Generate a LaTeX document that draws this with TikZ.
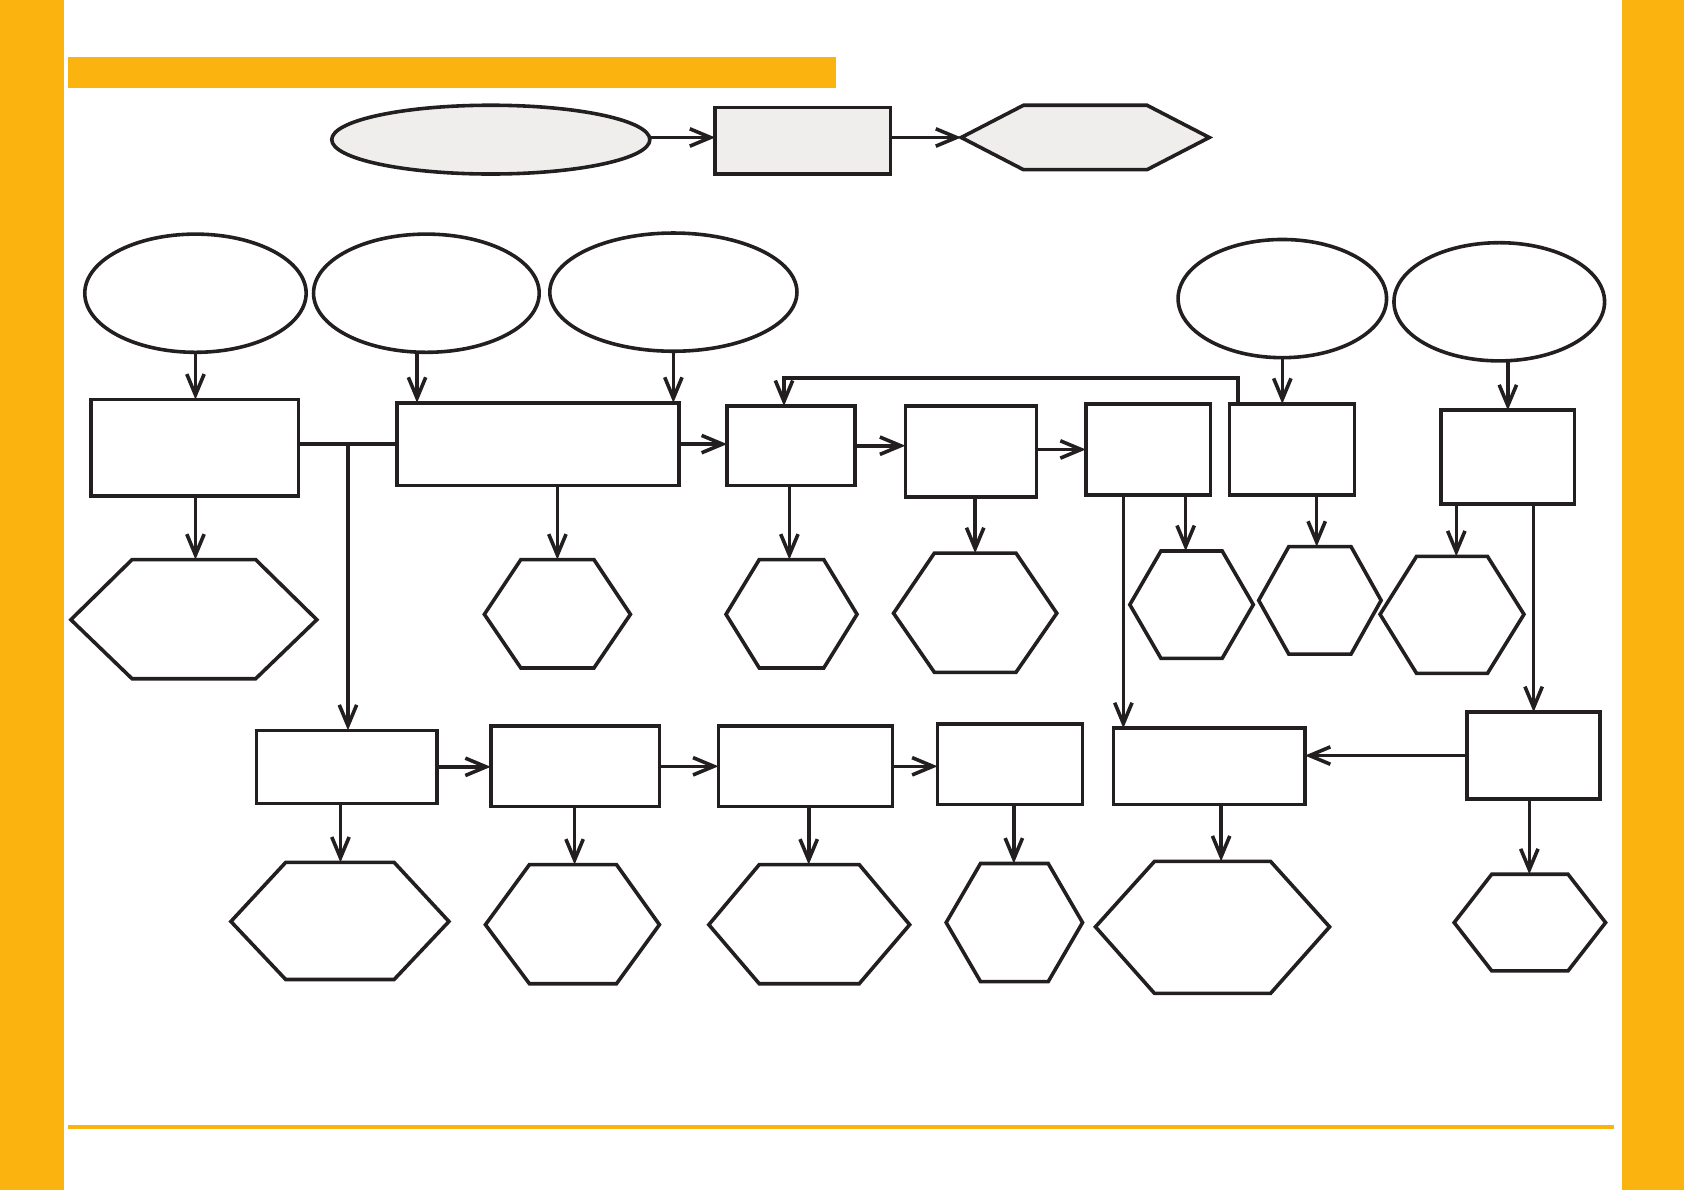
\documentclass[tikz,border=0pt]{standalone}
\usepackage{xcolor}
\usepackage{tikz}
\usetikzlibrary{arrows.meta,shapes.geometric}
\definecolor{barorange}{HTML}{FBB30F}
\definecolor{boxgray}{HTML}{EFEEED}
\definecolor{inkline}{HTML}{231F20}
\begin{document}
\begin{tikzpicture}[x=0.01cm,y=-0.01cm,>={Straight Barb[length=5.5pt,width=4.6pt]},
  line width=0.95pt,draw=inkline,
  blk/.style={draw=inkline,line width=0.95pt,inner sep=0pt,outer sep=0pt,rectangle},
  oval/.style={draw=inkline,line width=0.95pt,inner sep=0pt,outer sep=0pt,ellipse},
  hexa/.style={draw=inkline,line width=0.95pt,line join=miter},
  link/.style={->,draw=inkline,line width=0.95pt}]
\useasboundingbox (0,0) rectangle (1568,1108);
% frame
\fill[barorange](0,0) rectangle (60,1108);
\fill[barorange](1510,0) rectangle (1568,1108);
\fill[barorange](63,53) rectangle (778,82);
\draw[barorange,line width=1.1pt](63,1049)--(1503,1049);
% top row
\node[oval,fill=boxgray,minimum width=2.96cm,minimum height=0.64cm] (TE) at (457,130) {};
\node[blk,fill=boxgray,minimum width=1.63cm,minimum height=0.62cm] (TR) at (747.5,131) {};
\draw[hexa,fill=boxgray](895,128)--(953,98)--(1068,98)--(1126,128)--(1068,158)--(953,158)--cycle;
\coordinate (TH) at (895,128);
\draw[link](TE.east |- TH)--(TR.west |- TH);
\draw[link](TR.east |- TH)--(TH);
% ovals
\node[oval,minimum width=2.06cm,minimum height=1.1cm] (E1) at (182,273) {};
\node[oval,minimum width=2.1cm,minimum height=1.1cm] (E2) at (397,273) {};
\node[oval,minimum width=2.3cm,minimum height=1.1cm] (E3) at (627,272) {};
\node[oval,minimum width=1.94cm,minimum height=1.1cm] (E4) at (1194,278) {};
\node[oval,minimum width=1.96cm,minimum height=1.1cm] (E5) at (1396,281) {};
% middle boxes
\node[blk,minimum width=1.93cm,minimum height=0.9cm] (R1) at (181.5,417) {};
\node[blk,minimum width=2.62cm,minimum height=0.77cm] (R2) at (501,413.5) {};
\node[blk,minimum width=1.19cm,minimum height=0.74cm] (R3) at (736.5,415) {};
\node[blk,minimum width=1.22cm,minimum height=0.85cm] (R4) at (904,420.5) {};
\node[blk,minimum width=1.16cm,minimum height=0.85cm] (R5) at (1069,418.5) {};
\node[blk,minimum width=1.16cm,minimum height=0.85cm] (R6) at (1203,418.5) {};
\node[blk,minimum width=1.24cm,minimum height=0.87cm] (R7) at (1404,425.5) {};
% lower boxes
\node[blk,minimum width=1.68cm,minimum height=0.68cm] (R8) at (323,714) {};
\node[blk,minimum width=1.57cm,minimum height=0.75cm] (R9) at (535.5,713.5) {};
\node[blk,minimum width=1.62cm,minimum height=0.75cm] (R10) at (750,713.5) {};
\node[blk,minimum width=1.35cm,minimum height=0.75cm] (R11) at (940.5,711.5) {};
\node[blk,minimum width=1.78cm,minimum height=0.71cm] (R12) at (1126,713.5) {};
\node[blk,minimum width=1.24cm,minimum height=0.81cm] (R13) at (1428,703.5) {};
% hexagons, middle row
\draw[hexa](66,577)--(123,521)--(238,521)--(295,577)--(238,632)--(123,632)--cycle;
\coordinate (H1) at (182,521);
\draw[hexa](451,572)--(485,521)--(553,521)--(587,572)--(553,622)--(485,622)--cycle;
\coordinate (H2) at (519,521);
\draw[hexa](676,572)--(707,521)--(767,521)--(798,572)--(767,622)--(707,622)--cycle;
\coordinate (H3) at (735,521);
\draw[hexa](832,571)--(870,515)--(946,515)--(984,571)--(946,626)--(870,626)--cycle;
\coordinate (H4) at (908,515);
\draw[hexa](1052,563)--(1081,513)--(1138,513)--(1167,563)--(1138,613)--(1081,613)--cycle;
\coordinate (H5) at (1104,513);
\draw[hexa](1172,559)--(1200,509)--(1258,509)--(1286,559)--(1258,609)--(1200,609)--cycle;
\coordinate (H6) at (1226,509);
\draw[hexa](1285,572)--(1319,518)--(1385,518)--(1419,572)--(1385,627)--(1319,627)--cycle;
\coordinate (H7) at (1356,518);
% hexagons, lower row
\draw[hexa](215,858)--(266,803)--(367,803)--(418,858)--(367,912)--(266,912)--cycle;
\coordinate (H8) at (317,803);
\draw[hexa](452,861)--(493,805)--(574,805)--(614,861)--(574,916)--(493,916)--cycle;
\coordinate (H9) at (535,805);
\draw[hexa](660,861)--(707,805)--(800,805)--(847,861)--(800,916)--(707,916)--cycle;
\coordinate (H10) at (753,805);
\draw[hexa](881,859)--(913,804)--(976,804)--(1008,859)--(976,914)--(913,914)--cycle;
\coordinate (H11) at (944,804);
\draw[hexa](1020,863)--(1075,802)--(1183,802)--(1238,863)--(1183,925)--(1075,925)--cycle;
\coordinate (H12) at (1137,802);
\draw[hexa](1354,859)--(1389,814)--(1460,814)--(1495,859)--(1460,904)--(1389,904)--cycle;
\coordinate (H13) at (1424,814);
% ovals to boxes
\draw[link](E1.south)--(E1.south |- R1.north);
\draw[link](E2.261)--(E2.261 |- R2.north);
\draw[link](E3.south)--(E3.south |- R2.north);
\draw[link](E4.south)--(E4.south |- R6.north);
\draw[link](E5.south -| R7.north)--(R7.north);
% middle chain
\coordinate (j1) at (324,413.5);
\draw(R1.east |- R2.west)--(R2.west);
\draw[link](j1)--(j1 |- R8.north);
\draw[link](R2.east)--(R2.east -| R3.west);
\draw[link](R3.east)--(R3.east -| R4.west);
\draw[link](R4.east |- R5.west)--(R5.west);
\draw[link]([xshift=0.08cm]R6.north west)--++(0,-24)-|([xshift=-0.065cm]R3.north);
\coordinate (d5) at ([xshift=0.35cm]R5.south west);
\draw[link](d5)--(d5 |- R12.north);
\draw[link](R7.south -| R13.north)--(R13.north);
% boxes to hexagons
\foreach \b/\h in {R1/H1,R2/H2,R3/H3,R4/H4,R5/H5,R6/H6,R7/H7,R8/H8,R9/H9,R10/H10,R11/H11,R12/H12,R13/H13}
  \draw[link](\b.south -| \h)--(\h);
% lower chain
\draw[link](R8.east)--(R8.east -| R9.west);
\draw[link](R9.east)--(R9.east -| R10.west);
\draw[link](R10.east)--(R10.east -| R11.west);
\draw[link](R13.west)--(R13.west -| R12.east);
\end{tikzpicture}
\end{document}
